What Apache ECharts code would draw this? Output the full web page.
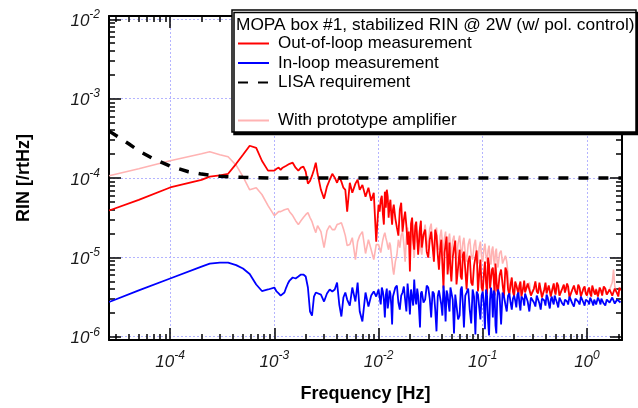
<!DOCTYPE html>
<html>
<head>
<meta charset="utf-8">
<script src="https://cdn.jsdelivr.net/npm/echarts@6/dist/echarts.min.js"></script>
<style>
html,body{margin:0;padding:0;background:#fff;}
#chart{width:638px;height:408px;}
</style>
</head>
<body>
<div id="chart"></div>
<script>
// ---------------- DATA ----------------
const freq = [
  2.6e-5,5e-5,1e-4,2e-4,2.4e-4,3e-4,3.6e-4,4.3e-4,5e-4,5.8e-4,6.7e-4,7.6e-4,8.7e-4,
  1e-3,1.05e-3,1.1e-3,1.15e-3,1.2e-3,1.25e-3,1.3e-3,1.35e-3,1.4e-3,1.5e-3,1.6e-3,1.7e-3,1.8e-3,1.9e-3,2e-3,2.1e-3,2.2e-3,2.3e-3,2.4e-3,2.5e-3,2.6e-3,2.8e-3,3e-3,3.2e-3,3.4e-3,3.6e-3,3.8e-3,4e-3,4.2e-3,4.4e-3,4.6e-3,4.8e-3,5e-3,5.3e-3,5.6e-3,6e-3,6.3e-3,6.6e-3,7e-3,7.5e-3,8e-3,8.5e-3,9e-3,9.5e-3,
  1e-2,1.025e-2,1.05e-2,1.075e-2,1.1e-2,1.125e-2,1.15e-2,1.175e-2,1.2e-2,1.225e-2,1.25e-2,1.275e-2,1.3e-2,1.325e-2,1.35e-2,1.375e-2,1.4e-2,1.45e-2,1.5e-2,1.55e-2,1.6e-2,1.65e-2,1.7e-2,1.75e-2,1.8e-2,1.85e-2,1.9e-2,1.95e-2,2e-2,2.05e-2,2.1e-2,2.15e-2,2.2e-2,2.25e-2,2.3e-2,2.35e-2,2.4e-2,2.45e-2,2.5e-2,2.55e-2,2.6e-2,2.7e-2,2.8e-2,2.9e-2,3e-2,3.1e-2,3.2e-2,3.3e-2,3.4e-2,3.5e-2,3.6e-2,3.7e-2,3.8e-2,3.9e-2,4e-2,4.1e-2,4.2e-2,4.3e-2,4.4e-2,4.5e-2,4.6e-2,4.7e-2,4.8e-2,4.9e-2,5e-2,5.15e-2,5.3e-2,5.45e-2,5.6e-2,5.8e-2,6e-2,6.15e-2,6.3e-2,6.45e-2,6.6e-2,6.8e-2,7e-2,7.25e-2,7.5e-2,7.75e-2,8e-2,8.25e-2,8.5e-2,8.75e-2,9e-2,9.25e-2,9.5e-2,9.75e-2,
  0.1,0.1025,0.105,0.1075,0.11,0.1125,0.115,0.1175,0.12,0.1225,0.125,0.1275,0.13,0.1325,0.135,0.1375,0.14,0.145,0.15,0.155,0.16,0.165,0.17,0.175,0.18,0.185,0.19,0.195,0.2,0.205,0.21,0.215,0.22,0.225,0.23,0.235,0.24,0.245,0.25,0.255,0.26,0.27,0.28,0.29,0.3,0.31,0.32,0.33,0.34,0.35,0.36,0.37,0.38,0.39,0.4,0.41,0.42,0.43,0.44,0.45,0.46,0.47,0.48,0.49,0.5,0.515,0.53,0.545,0.56,0.58,0.6,0.615,0.63,0.645,0.66,0.68,0.7,0.725,0.75,0.775,0.8,0.825,0.85,0.875,0.9,0.925,0.95,0.975,
  1,1.025,1.05,1.075,1.1,1.125,1.15,1.175,1.2,1.225,1.25,1.275,1.3,1.325,1.35,1.375,1.4,1.45,1.5,1.55,1.6,1.65,1.7,1.75,1.8,1.85,1.9,1.95,2,2.05,2.1
];

const outOfLoop = [
  3.9e-5,5.3e-5,7.6e-5,9.5e-5,1.04e-4,1.08e-4,1.13e-4,1.51e-4,1.96e-4,2.55e-4,2.4e-4,1.65e-4,1.24e-4,
  1.24e-4,1.31e-4,1.35e-4,1.27e-4,1.35e-4,1.39e-4,1.43e-4,1.47e-4,1.51e-4,1.56e-4,1.35e-4,1.24e-4,1.35e-4,1.39e-4,1.20e-4,8.5e-5,9.2e-5,1.07e-4,1.27e-4,1.56e-4,1.13e-4,7.1e-5,5.5e-5,7.8e-5,9.5e-5,1.13e-4,1.01e-4,8.7e-5,1.04e-4,9.0e-5,7.55e-5,7.1e-5,3.77e-5,8.7e-5,6.53e-5,8.5e-5,9.5e-5,7.1e-5,8.2e-5,5.82e-5,7.55e-5,5.18e-5,6.53e-5,1.58e-5,
  4.61e-5,3.77e-5,5.33e-5,5.99e-5,3.56e-5,2.59e-5,6.73e-5,4.23e-5,7.13e-5,5.82e-5,
  3.17e-5,4.48e-5,5.33e-5,3.45e-5,2.59e-5,3.99e-5,4.61e-5,3.08e-5,2.37e-5,1.88e-5,
  3.99e-5,4.89e-5,2.11e-5,2.99e-5,3.77e-5,2.51e-5,1.45e-5,2.11e-5,6.63e-6,2.66e-5,
  3.17e-5,1.67e-5,1.25e-5,2.51e-5,2.82e-5,1.77e-5,1.08e-5,1.58e-5,2.37e-5,2.90e-5,
  1.33e-5,1.94e-5,2.24e-5,1.18e-5,9.94e-6,1.67e-5,2.11e-5,1.37e-5,8.85e-6,2.24e-5,
  1.88e-5,1.08e-5,7.02e-6,1.25e-5,1.67e-5,8.12e-6,4.05e-6,1.15e-5,1.45e-5,1.83e-5,
  6.08e-6,8.85e-6,1.54e-5,7.02e-6,4.97e-6,9.94e-6,1.33e-5,1.63e-5,4.55e-6,7.45e-6,
  1.25e-5,5.74e-6,5.26e-6,1.08e-5,1.18e-5,7.02e-6,3.94e-6,8.85e-6,1.05e-5,4.82e-6,
  4.42e-6,7.89e-6,9.94e-6,1.22e-5,3.72e-6,6.08e-6,9.38e-6,4.17e-6,
  3.72e-6,6.08e-6,8.85e-6,4.82e-6,3.40e-6,9.94e-6,8.12e-6,4.05e-6,3.94e-6,7.02e-6,
  7.45e-6,5.26e-6,3.30e-6,8.36e-6,8.85e-6,3.83e-6,3.61e-6,5.90e-6,7.02e-6,4.55e-6,
  3.21e-6,7.45e-6,6.63e-6,3.94e-6,3.40e-6,4.55e-6,5.58e-6,3.72e-6,3.21e-6,4.97e-6,
  5.26e-6,3.94e-6,3.51e-6,4.42e-6,4.97e-6,3.21e-6,3.30e-6,4.17e-6,5.11e-6,3.61e-6,
  3.61e-6,4.69e-6,4.82e-6,3.30e-6,3.30e-6,4.05e-6,4.97e-6,3.72e-6,3.51e-6,4.82e-6,
  4.69e-6,3.12e-6,3.21e-6,3.94e-6,4.82e-6,3.51e-6,3.61e-6,4.42e-6,4.55e-6,3.21e-6,
  3.30e-6,4.17e-6,4.69e-6,3.83e-6,3.40e-6,4.82e-6,4.42e-6,3.30e-6,3.21e-6,4.05e-6,
  4.55e-6,3.61e-6,3.51e-6,4.69e-6,4.30e-6,3.12e-6,3.21e-6,3.94e-6,4.42e-6,3.72e-6,
  3.40e-6,4.55e-6,4.17e-6,3.21e-6,3.21e-6,4.05e-6,4.30e-6,3.51e-6,
  3.30e-6,3.83e-6,4.17e-6,3.51e-6,3.21e-6,4.42e-6,4.30e-6,3.61e-6,3.40e-6,3.94e-6,4.05e-6,3.21e-6,3.12e-6,4.17e-6,4.17e-6,3.72e-6,3.30e-6,4.30e-6,4.05e-6,3.40e-6,3.21e-6,3.94e-6,4.17e-6,3.30e-6,3.30e-6,4.05e-6,3.94e-6,3.51e-6,3.21e-6,4.17e-6,3.83e-6
];

const inLoop = [
  2.74e-6,3.83e-6,5.42e-6,7.66e-6,8.36e-6,8.6e-6,8.6e-6,8.0e-6,7.23e-6,6.17e-6,4.55e-6,3.77e-6,3.94e-6,
  4.17e-6,3.72e-6,3.51e-6,3.30e-6,3.21e-6,3.61e-6,4.17e-6,4.69e-6,5.11e-6,5.58e-6,5.42e-6,5.74e-6,6.08e-6,6.08e-6,5.74e-6,4.17e-6,2.08e-6,1.85e-6,3.21e-6,3.61e-6,3.51e-6,3.40e-6,2.78e-6,3.51e-6,3.94e-6,3.72e-6,3.94e-6,4.82e-6,2.55e-6,1.80e-6,3.12e-6,3.61e-6,2.94e-6,2.47e-6,4.17e-6,2.78e-6,4.82e-6,2.08e-6,1.56e-6,3.61e-6,2.40e-6,3.30e-6,3.72e-6,3.21e-6,
  3.94e-6,3.12e-6,2.55e-6,4.17e-6,3.72e-6,2.94e-6,1.75e-6,3.40e-6,4.05e-6,2.27e-6,
  2.78e-6,3.83e-6,3.51e-6,2.47e-6,1.43e-6,3.21e-6,3.30e-6,4.17e-6,4.42e-6,2.70e-6,
  2.20e-6,3.30e-6,3.61e-6,4.30e-6,2.94e-6,2.08e-6,4.69e-6,3.21e-6,1.91e-6,3.94e-6,
  3.72e-6,2.47e-6,5.26e-6,3.12e-6,2.55e-6,4.05e-6,3.30e-6,2.14e-6,1.31e-6,3.51e-6,
  3.72e-6,2.70e-6,2.94e-6,4.42e-6,4.17e-6,3.03e-6,1.75e-6,3.72e-6,3.51e-6,2.20e-6,
  1.17e-6,3.21e-6,3.83e-6,4.05e-6,2.55e-6,1.85e-6,4.42e-6,3.12e-6,1.56e-6,3.83e-6,
  3.40e-6,2.55e-6,2.08e-6,4.17e-6,4.05e-6,2.94e-6,1.10e-6,3.40e-6,3.51e-6,1.65e-6,
  1.85e-6,3.94e-6,4.30e-6,2.55e-6,1.31e-6,3.30e-6,3.61e-6,4.05e-6,2.20e-6,1.47e-6,
  3.94e-6,3.21e-6,1.07e-6,3.72e-6,3.40e-6,2.34e-6,1.65e-6,3.30e-6,
  3.72e-6,2.62e-6,1.24e-6,3.94e-6,3.30e-6,1.56e-6,1.04e-6,2.94e-6,4.17e-6,3.30e-6,
  1.75e-6,3.83e-6,3.51e-6,1.39e-6,1.10e-6,2.78e-6,3.94e-6,3.40e-6,1.43e-6,3.61e-6,
  3.21e-6,2.55e-6,2.08e-6,3.30e-6,3.51e-6,2.70e-6,2.20e-6,3.03e-6,3.30e-6,2.86e-6,
  2.34e-6,3.40e-6,3.61e-6,2.62e-6,2.14e-6,3.21e-6,3.21e-6,2.94e-6,2.47e-6,3.51e-6,
  3.40e-6,2.78e-6,2.08e-6,3.12e-6,3.12e-6,2.70e-6,2.40e-6,3.30e-6,3.30e-6,2.62e-6,
  2.20e-6,3.03e-6,3.21e-6,2.86e-6,2.47e-6,3.40e-6,3.12e-6,2.62e-6,2.27e-6,2.94e-6,
  3.21e-6,2.78e-6,2.55e-6,3.30e-6,3.03e-6,2.70e-6,2.34e-6,3.12e-6,3.12e-6,2.62e-6,
  2.47e-6,2.94e-6,3.03e-6,2.78e-6,2.55e-6,3.21e-6,3.12e-6,2.62e-6,2.40e-6,3.03e-6,
  3.03e-6,2.78e-6,2.55e-6,3.21e-6,3.12e-6,2.70e-6,2.47e-6,2.94e-6,
  3.03e-6,2.78e-6,2.55e-6,3.12e-6,3.12e-6,2.70e-6,2.47e-6,2.94e-6,2.94e-6,2.55e-6,2.62e-6,3.12e-6,3.12e-6,2.78e-6,2.55e-6,3.03e-6,3.03e-6,2.62e-6,2.47e-6,2.94e-6,2.94e-6,2.70e-6,2.62e-6,3.12e-6,3.03e-6,2.62e-6,2.55e-6,2.94e-6,2.94e-6,2.78e-6,2.70e-6
];

const prototypeAmp = [
  1.07e-4,1.31e-4,1.65e-4,2.02e-4,2.14e-4,1.96e-4,1.85e-4,1.45e-4,1.04e-4,7.1e-5,7.55e-5,6.2e-5,4.48e-5,
  3.36e-5,3.56e-5,3.77e-5,3.77e-5,3.88e-5,3.99e-5,4.11e-5,4.11e-5,3.77e-5,3.36e-5,2.90e-5,2.59e-5,2.90e-5,3.17e-5,3.45e-5,3.66e-5,3.17e-5,2.82e-5,2.37e-5,2.05e-5,2.51e-5,2.11e-5,1.33e-5,2.17e-5,2.51e-5,2.24e-5,2.24e-5,2.59e-5,2.66e-5,2.74e-5,2.30e-5,1.88e-5,1.41e-5,1.45e-5,1.77e-5,9.38e-6,1.58e-5,1.88e-5,2.11e-5,1.12e-5,1.67e-5,1.25e-5,9.38e-6,1.45e-5,
  1.45e-5,1.29e-5,1.15e-5,1.41e-5,1.67e-5,1.88e-5,2.05e-5,1.77e-5,1.58e-5,1.37e-5,
  1.25e-5,1.54e-5,1.41e-5,1.08e-5,8.85e-6,7.02e-6,6.08e-6,8.85e-6,1.08e-5,1.67e-5,
  1.33e-5,1.88e-5,2.11e-5,1.45e-5,8.85e-6,1.77e-5,2.37e-5,1.67e-5,1.25e-5,1.88e-5,
  2.24e-5,1.41e-5,9.94e-6,1.94e-5,2.51e-5,1.58e-5,1.45e-5,2.11e-5,2.37e-5,1.25e-5,
  1.08e-5,1.88e-5,2.59e-5,1.67e-5,1.33e-5,2.30e-5,2.66e-5,1.49e-5,1.18e-5,2.05e-5,
  2.37e-5,1.33e-5,1.25e-5,1.88e-5,2.24e-5,1.54e-5,1.05e-5,1.77e-5,2.11e-5,1.25e-5,
  1.08e-5,1.67e-5,1.99e-5,1.37e-5,9.94e-6,1.63e-5,1.88e-5,1.18e-5,9.38e-6,1.49e-5,
  1.88e-5,1.25e-5,9.94e-6,1.54e-5,1.77e-5,1.12e-5,8.85e-6,1.45e-5,1.72e-5,1.08e-5,
  9.38e-6,1.41e-5,1.67e-5,1.05e-5,8.36e-6,1.33e-5,1.58e-5,9.94e-6,
  8.85e-6,1.25e-5,1.49e-5,1.05e-5,8.36e-6,1.22e-5,1.41e-5,9.94e-6,8.12e-6,1.25e-5,
  1.37e-5,9.38e-6,7.89e-6,1.18e-5,1.29e-5,8.85e-6,7.45e-6,1.12e-5,1.22e-5,8.36e-6,
  7.89e-6,1.05e-5,8.85e-6,6.08e-6,3.94e-6,4.42e-6,4.82e-6,3.72e-6,3.40e-6,4.30e-6,
  4.69e-6,3.83e-6,3.61e-6,4.42e-6,4.82e-6,3.51e-6,3.40e-6,4.17e-6,4.69e-6,3.72e-6,
  3.72e-6,4.30e-6,4.82e-6,3.40e-6,3.40e-6,4.05e-6,4.69e-6,3.83e-6,3.61e-6,4.42e-6,
  4.55e-6,3.30e-6,3.30e-6,4.05e-6,4.69e-6,3.61e-6,3.72e-6,4.30e-6,4.42e-6,3.40e-6,
  3.40e-6,4.17e-6,4.55e-6,3.72e-6,3.51e-6,4.42e-6,4.30e-6,3.30e-6,3.30e-6,4.05e-6,
  4.42e-6,3.61e-6,3.61e-6,4.30e-6,4.17e-6,3.30e-6,3.30e-6,3.94e-6,4.30e-6,3.72e-6,
  3.51e-6,4.42e-6,4.05e-6,3.30e-6,3.30e-6,3.94e-6,4.17e-6,3.61e-6,
  3.40e-6,3.72e-6,4.05e-6,3.40e-6,3.30e-6,3.94e-6,4.17e-6,3.61e-6,3.51e-6,4.05e-6,3.94e-6,3.30e-6,3.21e-6,3.83e-6,4.05e-6,3.51e-6,3.40e-6,4.17e-6,3.94e-6,3.40e-6,3.30e-6,3.94e-6,4.05e-6,4.82e-6,7.02e-6,4.30e-6,3.83e-6,3.51e-6,3.30e-6,3.94e-6,3.83e-6
];

const lisaFreq = [2.6e-5,3e-5,4e-5,5e-5,7e-5,1e-4,1.5e-4,2e-4,3e-4,5e-4,1e-3,2.2];
const lisaReq  = [3.9e-4,3.45e-4,2.7e-4,2.2e-4,1.73e-4,1.41e-4,1.2e-4,1.12e-4,1.05e-4,1.02e-4,1.0e-4,1.0e-4];

const xMajorTicks = [1e-4,1e-3,1e-2,1e-1,1];
const xMinorTicks = [3e-5,4e-5,5e-5,6e-5,7e-5,8e-5,9e-5,
  2e-4,3e-4,4e-4,5e-4,6e-4,7e-4,8e-4,9e-4,
  2e-3,3e-3,4e-3,5e-3,6e-3,7e-3,8e-3,9e-3,
  2e-2,3e-2,4e-2,5e-2,6e-2,7e-2,8e-2,9e-2,
  0.2,0.3,0.4,0.5,0.6,0.7,0.8,0.9,2];
const yMajorTicks = [1e-6,1e-5,1e-4,1e-3,1e-2];
const yMinorTicks = [2e-6,3e-6,4e-6,5e-6,6e-6,7e-6,8e-6,9e-6,
  2e-5,3e-5,4e-5,5e-5,6e-5,7e-5,8e-5,9e-5,
  2e-4,3e-4,4e-4,5e-4,6e-4,7e-4,8e-4,9e-4,
  2e-3,3e-3,4e-3,5e-3,6e-3,7e-3,8e-3,9e-3];

const xMin = 2.59e-5, xMax = 2.17;
const yMin = 9.1e-7, yMax = 1.1e-2;

const legendTitle = 'MOPA box #1, stabilized RIN @ 2W (w/ pol. control)';
const names = ['Out-of-loop measurement','In-loop measurement','LISA requirement','With prototype amplifier'];

// ---------------- CHART ----------------
const FONT = '"Liberation Sans", Arial, sans-serif';
const pairs = (fs, vs) => fs.map((f, i) => [f, vs[i]]);
const expLabel = v => '{b|10}{e|' + Math.round(Math.log10(v)) + '}';
const labelRich = {
  b: {fontSize: 17, fontStyle: 'italic', fontFamily: FONT, color: '#1a1a1a', padding: [4, 0, 0, 0], verticalAlign: 'bottom'},
  e: {fontSize: 12, fontStyle: 'italic', fontFamily: FONT, color: '#1a1a1a', verticalAlign: 'top'}
};
const gridStyle = {show: true, lineStyle: {color: '#b4b4ff', type: [2, 2], width: 1}};

function mkX(pos, ticks, len, labels, line, split) {
  return {
    type: 'log', logBase: 10, min: xMin, max: xMax, position: pos,
    axisLine: {show: line, onZero: false, lineStyle: {color: '#000', width: 2}},
    axisTick: {show: true, inside: true, length: len, customValues: ticks, lineStyle: {color: '#000', width: 1.5}},
    axisLabel: labels ? {show: true, customValues: ticks, formatter: expLabel, rich: labelRich, margin: 10} : {show: false},
    splitLine: split ? gridStyle : {show: false}, minorTick: {show: false}, minorSplitLine: {show: false}
  };
}
function mkY(pos, ticks, len, labels, line, split) {
  return {
    type: 'log', logBase: 10, min: yMin, max: yMax, position: pos,
    axisLine: {show: line, onZero: false, lineStyle: {color: '#000', width: 2}},
    axisTick: {show: true, inside: true, length: len, customValues: ticks, lineStyle: {color: '#000', width: 1.5}},
    axisLabel: labels ? {show: true, customValues: ticks, formatter: expLabel, rich: labelRich, margin: 9} : {show: false},
    splitLine: split ? gridStyle : {show: false}, minorTick: {show: false}, minorSplitLine: {show: false}
  };
}

const xAxes = [
  Object.assign(mkX('bottom', xMajorTicks, 12, true, true, true), {
    name: 'Frequency [Hz]', nameLocation: 'middle', nameGap: 45,
    nameTextStyle: {fontSize: 18, fontWeight: 'bold', fontFamily: FONT, color: '#000'}
  }),
  mkX('bottom', xMinorTicks, 6, false, false, false),
  mkX('top', xMajorTicks, 12, false, true, false),
  mkX('top', xMinorTicks, 6, false, false, false)
];
const yAxes = [
  Object.assign(mkY('left', yMajorTicks, 12, true, true, true), {
    name: 'RIN [/rtHz]', nameLocation: 'middle', nameGap: 76,
    nameTextStyle: {fontSize: 18, fontWeight: 'bold', fontFamily: FONT, color: '#000'}
  }),
  mkY('left', yMinorTicks, 6, false, false, false),
  mkY('right', yMajorTicks, 12, false, true, false),
  mkY('right', yMinorTicks, 6, false, false, false)
];

const legendBase = {
  orient: 'vertical', left: 237, padding: 0,
  itemWidth: 31, itemHeight: 14, itemGap: 2.5,
  itemStyle: {opacity: 0, borderWidth: 0},
  textStyle: {fontSize: 17, fontFamily: FONT, color: '#000', lineHeight: 17, padding: [0, 0, 0, 4]},
  z: 110, selectedMode: false
};

const chart = echarts.init(document.getElementById('chart'), null, {renderer: 'canvas'});
chart.setOption({
  animation: false,
  backgroundColor: '#fff',
  grid: {left: 109, right: 16, top: 16, bottom: 68, containLabel: false},
  xAxis: xAxes,
  yAxis: yAxes,
  legend: [
    Object.assign({}, legendBase, {data: [names[0], names[1], names[2]], top: 35}),
    Object.assign({}, legendBase, {data: [names[3]], top: 112})
  ],
  graphic: [
    {
      type: 'rect', z: 100,
      shape: {x: 232, y: 10, width: 404, height: 122},
      style: {fill: '#fff', stroke: '#000', lineWidth: 1.5, shadowColor: '#000', shadowOffsetX: 2, shadowOffsetY: 2.5, shadowBlur: 0}
    },
    {
      type: 'text', z: 101, left: 236, top: 17,
      style: {text: legendTitle, font: '17.3px ' + FONT, fill: '#000'}
    }
  ],
  series: [
    {
      name: names[3], type: 'line', data: pairs(freq, prototypeAmp), symbol: 'none', showSymbol: false,
      lineStyle: {color: '#ffb3b3', width: 1.6}, itemStyle: {color: '#ffb3b3'}, z: 2
    },
    {
      name: names[0], type: 'line', data: pairs(freq, outOfLoop), symbol: 'none', showSymbol: false,
      lineStyle: {color: '#ff0000', width: 1.8}, itemStyle: {color: '#ff0000'}, z: 3
    },
    {
      name: names[1], type: 'line', data: pairs(freq, inLoop), symbol: 'none', showSymbol: false,
      lineStyle: {color: '#0000ff', width: 1.8}, itemStyle: {color: '#0000ff'}, z: 4
    },
    {
      name: names[2], type: 'line', data: pairs(lisaFreq, lisaReq), symbol: 'none', showSymbol: false,
      lineStyle: {color: '#000', width: 3.5, type: [10, 10]}, itemStyle: {color: '#000'}, z: 5
    }
  ]
});
</script>
</body>
</html>
